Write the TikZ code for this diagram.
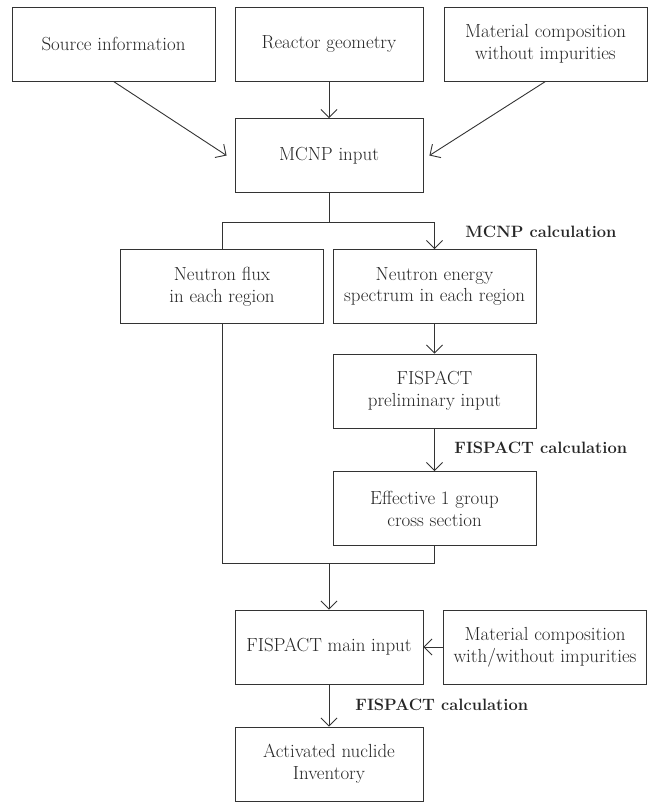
\documentclass[tikz,border=0pt]{standalone}
\usepackage{tikz}
\usetikzlibrary{arrows.meta}
\tikzstyle{box}=[draw, rectangle, inner sep=0pt, align=center, minimum height=74bp, font=\fontsize{19}{22}\selectfont]
\tikzstyle{wbox}=[box, minimum width=203bp]
\tikzstyle{nbox}=[box, minimum width=188bp]
\tikzstyle{calc}=[anchor=west, inner sep=0pt, font=\fontsize{16.5}{19}\selectfont\bfseries]
\tikzstyle{arr}=[-{Straight Barb[length=8bp,width=16bp]}]

\begin{document}
\begin{tikzpicture}[x=1bp, y=-1bp, line width=0.9bp, draw=black!80, text=black!85]
        \useasboundingbox (0,0) rectangle (652,802);
        % inputs for MCNP
        \node[wbox] (src) at (113.5, 44) {Source information};
        \node[nbox] (geo) at (329, 44) {Reactor geometry};
        \node[wbox] (mat1) at (545.5, 44) {Material composition\\without impurities};
        \node[nbox] (mcnp) at (329, 155.5) {MCNP input};
        \draw[arr] (src.south) -- ([xshift=-8]mcnp.west);
        \draw[arr] (geo.south) -- (mcnp.north);
        \draw[arr] (mat1.south) -- ([xshift=6]mcnp.east);
        % MCNP results
        \node[wbox] (flux) at (222, 286.5) {Neutron flux\\in each region};
        \node[wbox] (spec) at (434.5, 286.5) {Neutron energy\\spectrum in each region};
        \coordinate (split) at (329, 222);
        \draw (mcnp.south) -- (split);
        \draw (split) -| (flux.north);
        \draw[arr] (split) -| (spec.north);
        \node[calc] (mcnpcalc) at (465, 232) {MCNP calculation};
        % FISPACT preliminary run
        \node[wbox] (prelim) at (434.5, 391) {FISPACT\\preliminary input};
        \node[wbox] (eff) at (434.5, 508.5) {Effective 1 group\\cross section};
        \draw[arr] (spec.south) -- (prelim.north);
        \draw[arr] (prelim.south) -- (eff.north);
        \node[calc] (fiscalc1) at (454, 448) {FISPACT calculation};
        % FISPACT main run
        \node[nbox] (main) at (329, 647) {FISPACT main input};
        \node[wbox] (mat2) at (545, 647) {Material composition\\with/without impurities};
        \node[nbox] (act) at (329, 764) {Activated nuclide\\Inventory};
        \coordinate (merge) at (329, 563);
        \draw (flux.south) |- (merge);
        \draw (eff.south) |- (merge);
        \draw[arr] (merge) -- (main.north);
        \draw[arr] (mat2.west) -- (main.east);
        \draw[arr] (main.south) -- (act.north);
        \node[calc] (fiscalc2) at (355, 705) {FISPACT calculation};
    \end{tikzpicture}
\end{document}
